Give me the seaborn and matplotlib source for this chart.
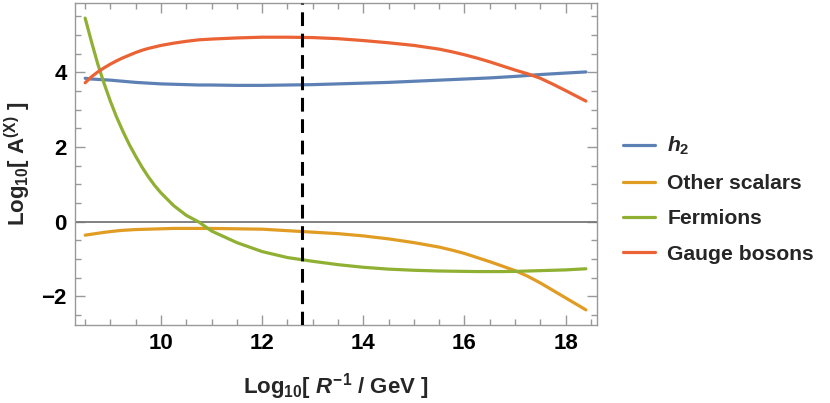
import matplotlib
matplotlib.use("Agg")
import matplotlib.pyplot as plt
from matplotlib.ticker import MultipleLocator
from matplotlib.lines import Line2D
import seaborn as sns
import pandas as pd

# values
log_inv_r = [8.5, 8.625, 8.75, 8.875, 9.0, 9.125, 9.25, 9.375, 9.5, 9.625, 9.75, 9.875, 10.0,
             10.25, 10.5, 10.75, 11.0, 11.5, 12.0, 12.5, 13.0, 13.5, 14.0, 14.5, 15.0, 15.5,
             15.75, 16.0, 16.25, 16.5, 16.75, 17.0, 17.25, 17.5, 17.75, 18.0, 18.2, 18.4]
h2 = [3.84, 3.82, 3.81, 3.80, 3.79, 3.775, 3.76, 3.745, 3.73, 3.72, 3.71, 3.70, 3.69,
      3.68, 3.67, 3.66, 3.66, 3.65, 3.65, 3.66, 3.67, 3.69, 3.71, 3.73, 3.76, 3.79,
      3.805, 3.82, 3.835, 3.85, 3.87, 3.89, 3.915, 3.94, 3.96, 3.98, 3.995, 4.01]
other_scalars = [-0.36, -0.335, -0.31, -0.285, -0.265, -0.245, -0.23, -0.22, -0.21, -0.205, -0.20, -0.195, -0.19,
                 -0.18, -0.18, -0.18, -0.18, -0.19, -0.20, -0.24, -0.28, -0.32, -0.38, -0.46, -0.56, -0.68,
                 -0.76, -0.85, -0.96, -1.07, -1.19, -1.31, -1.46, -1.64, -1.84, -2.04, -2.20, -2.36]
fermions = [5.45, 4.82, 4.22, 3.70, 3.22, 2.79, 2.41, 2.06, 1.75, 1.46, 1.20, 0.97, 0.77,
            0.43, 0.17, -0.01, -0.25, -0.56, -0.80, -0.96, -1.06, -1.15, -1.22, -1.27, -1.30, -1.32,
            -1.325, -1.33, -1.335, -1.335, -1.335, -1.33, -1.32, -1.31, -1.30, -1.29, -1.275, -1.26]
gauge_bosons = [3.72, 3.88, 4.01, 4.12, 4.22, 4.31, 4.39, 4.46, 4.53, 4.59, 4.64, 4.68, 4.72,
                4.78, 4.83, 4.87, 4.89, 4.92, 4.94, 4.94, 4.93, 4.90, 4.85, 4.79, 4.72, 4.62,
                4.55, 4.47, 4.38, 4.28, 4.17, 4.06, 3.96, 3.84, 3.68, 3.51, 3.37, 3.23]
series_names = ["$h_2$", "Other scalars", "Fermions", "Gauge bosons"]
colors = ["#5E81B5", "#E19C24", "#8FB032", "#EB6235"]
x_marker = 12.78

rows = []
for name, vals in zip(series_names, [h2, other_scalars, fermions, gauge_bosons]):
    for xv, yv in zip(log_inv_r, vals):
        rows.append({"x": xv, "y": yv, "series": name})
df = pd.DataFrame(rows)

sns.set_style("ticks")
plt.rcParams["font.family"] = ["Liberation Sans", "DejaVu Sans"]
plt.rcParams["font.weight"] = "bold"
plt.rcParams["mathtext.fontset"] = "custom"
plt.rcParams["mathtext.rm"] = "Liberation Sans:bold"
plt.rcParams["mathtext.bf"] = "Liberation Sans:bold"
plt.rcParams["mathtext.it"] = "Liberation Sans:bold:italic"
plt.rcParams["lines.solid_joinstyle"] = "round"

fig = plt.figure(figsize=(8.3, 4.03), dpi=100)
ax = fig.add_axes([0.0904, 0.1935, 0.6289, 0.799])

ax.axhline(0, color="#777777", lw=1.3, zorder=1)
sns.lineplot(data=df, x="x", y="y", hue="series", hue_order=series_names,
             palette=colors, linewidth=2.3, sort=False, legend=False, ax=ax, zorder=3)
ax.axvline(x_marker, color="black", lw=2.2, ls=(0, (4.5, 2.5)), zorder=4)

ax.set_xlim(8.30, 18.62)
ax.set_ylim(-2.766, 5.855)
ax.xaxis.set_major_locator(MultipleLocator(2))
ax.xaxis.set_minor_locator(MultipleLocator(0.5))
ax.yaxis.set_major_locator(MultipleLocator(2))
ax.yaxis.set_minor_locator(MultipleLocator(0.5))
ax.tick_params(which="both", direction="in", top=True, right=True, color="#999999",
               labelsize=16, labelcolor="black", width=1)
ax.tick_params(which="major", length=7, pad=6)
ax.tick_params(which="minor", length=4)
for lab in ax.get_xticklabels() + ax.get_yticklabels():
    lab.set_fontweight("bold")
for sp in ax.spines.values():
    sp.set_color("#999999")
    sp.set_linewidth(1)

ax.set_xlabel(r"Log$_{10}$[ $R^{-1}$ / GeV ]", fontsize=16, fontweight="bold", labelpad=12)
ax.set_ylabel(r"Log$_{10}$[ A$^{(\mathrm{X})}$ ]", fontsize=16, fontweight="bold", labelpad=6)

handles = [Line2D([0], [0], color=c, lw=2.3) for c in colors]
ax.legend(handles, series_names, loc="center left", bbox_to_anchor=(0.7506, 0.505),
          bbox_transform=fig.transFigure, frameon=False, handlelength=1.5,
          handletextpad=0.6, labelspacing=0.78, borderpad=0, borderaxespad=0,
          prop={"weight": "bold", "size": 15.2})

fig.savefig("out.png", dpi=100)
